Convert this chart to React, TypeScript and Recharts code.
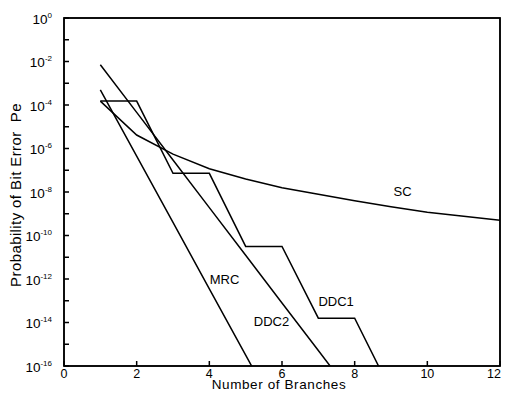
import React from 'react';
import { ComposedChart, Line, XAxis, YAxis, ReferenceDot, ReferenceArea } from 'recharts';

// Number of branches (x) and probability of bit error Pe (y) for each scheme
const scBranches = [1, 2, 3, 4, 5, 6, 7, 8, 9, 10, 11, 12];
const scPe = [1.51e-4, 4.17e-6, 5.5e-7, 1.17e-7, 3.98e-8, 1.58e-8, 7.9e-9, 3.98e-9, 2.09e-9, 1.17e-9, 7.6e-10, 5.0e-10];

const mrcBranches = [1, 2, 3, 4, 5, 6];
const mrcPe = [5.0e-4, 4.47e-7, 3.98e-10, 3.55e-13, 3.16e-16, 2.82e-19];

const ddc1Branches = [1, 2, 3, 4, 5, 6, 7, 8, 9];
const ddc1Pe = [1.51e-4, 1.51e-4, 7.24e-8, 7.24e-8, 3.16e-11, 3.16e-11, 1.58e-14, 1.58e-14, 7.08e-18];

const ddc2Branches = [1, 2, 3, 4, 5, 6, 7, 8];
const ddc2Pe = [7.08e-3, 4.57e-5, 2.95e-7, 1.91e-9, 1.23e-11, 7.94e-14, 5.13e-16, 3.31e-18];

const xTicks = [0, 2, 4, 6, 8, 10, 12];
const yExponents = [0, -1, -2, -3, -4, -5, -6, -7, -8, -9, -10, -11, -12, -13, -14, -15, -16];
const yTicks = yExponents.map((e) => Math.pow(10, e));

const curveNames = ['SC', 'DDC1', 'DDC2', 'MRC'];
const curveLabelX = [9.32, 7.49, 5.71, 4.42];
const curveLabelY = [1.1e-8, 9.8e-14, 1.1e-14, 1.0e-12];

const xTitle = 'Number of Branches';
const yTitle = 'Probability of Bit Error  Pe';

const FONT = '"Liberation Sans", Arial, Helvetica, sans-serif';
const INK = '#000000';
const W = 502;
const H = 391;
const MARGIN = { top: 10, right: 10, bottom: 0, left: 0 };
const Y_AXIS_W = 56;
const X_AXIS_H = 33;

const zip = (xs: number[], ys: number[]) => xs.map((x, i) => ({ x, y: ys[i] }));
const scData = zip(scBranches, scPe);
const mrcData = zip(mrcBranches, mrcPe);
const ddc1Data = zip(ddc1Branches, ddc1Pe);
const ddc2Data = zip(ddc2Branches, ddc2Pe);

const X_MAX = xTicks[xTicks.length - 1];
const TICK = 5;
const TICK_W = 1.5;

// plot box derived from the chart layout (not from data)
const PLOT_L = MARGIN.left + Y_AXIS_W;
const PLOT_T = MARGIN.top;
const PLOT_R = W - MARGIN.right;
const PLOT_B = H - MARGIN.bottom - X_AXIS_H;

const BottomTick = (p: any) => {
  const isLast = p.payload.value === X_MAX;
  return (
    <g>
      <rect x={p.x - TICK_W / 2} y={p.y - TICK} width={TICK_W} height={TICK} fill={INK} />
      <text x={isLast ? p.x + 1 : p.x} y={p.y + 11.5} textAnchor={isLast ? 'end' : 'middle'} fontSize={12.5} fill={INK} fontFamily={FONT}>
        {p.payload.value}
      </text>
    </g>
  );
};

const TopTick = (p: any) => (
  <rect x={p.x - TICK_W / 2} y={p.y} width={TICK_W} height={TICK} fill={INK} />
);

const LeftTick = (p: any) => {
  const e = Math.round(Math.log10(p.payload.value));
  return (
    <g>
      <rect x={p.x} y={p.y - TICK_W / 2} width={TICK} height={TICK_W} fill={INK} />
      {e % 2 === 0 ? (
        <text x={p.x - 12} y={p.y + 5.5} textAnchor="end" fontSize={13.5} fill={INK} fontFamily={FONT}>
          10
          <tspan dy={-6} fontSize={8}>{String(e)}</tspan>
        </text>
      ) : null}
    </g>
  );
};

const RightTick = (p: any) => (
  <rect x={p.x - TICK} y={p.y - TICK_W / 2} width={TICK} height={TICK_W} fill={INK} />
);

export default function App() {
  return (
    <div style={{ position: 'relative', width: W, height: H, background: '#fff', fontFamily: FONT }}>
      <ComposedChart width={W} height={H} margin={MARGIN}>
        <XAxis xAxisId="b" dataKey="x" type="number" domain={[0, 12]} ticks={xTicks} interval={0} height={X_AXIS_H}
          tickSize={0} tickMargin={0} tickLine={false} axisLine={false}
          tick={(p: any) => <BottomTick {...p} />} allowDataOverflow />
        <XAxis xAxisId="t" dataKey="x" orientation="top" type="number" domain={[0, 12]} ticks={xTicks} interval={0} height={0}
          tickSize={0} tickMargin={0} tickLine={false} axisLine={false} tick={(p: any) => <TopTick {...p} />} allowDataOverflow />
        <YAxis yAxisId="l" type="number" scale="log" domain={[1e-16, 1]} ticks={yTicks} interval={0} width={Y_AXIS_W}
          tickSize={0} tickMargin={0} tickLine={false} axisLine={false} tick={(p: any) => <LeftTick {...p} />} allowDataOverflow />
        <YAxis yAxisId="r" orientation="right" type="number" scale="log" domain={[1e-16, 1]} ticks={yTicks} interval={0} width={0}
          tickSize={0} tickMargin={0} tickLine={false} axisLine={false} tick={(p: any) => <RightTick {...p} />} allowDataOverflow />
        <ReferenceArea xAxisId="b" yAxisId="l" x1={0} x2={12} y1={1e-16} y2={1} fill="none" stroke={INK} strokeWidth={1.5} ifOverflow="visible" />
        <Line xAxisId="b" yAxisId="l" data={scData} dataKey="y" type="linear" stroke={INK} strokeWidth={1.5} dot={false} isAnimationActive={false} />
        <Line xAxisId="b" yAxisId="l" data={mrcData} dataKey="y" type="linear" stroke={INK} strokeWidth={1.5} dot={false} isAnimationActive={false} />
        <Line xAxisId="b" yAxisId="l" data={ddc1Data} dataKey="y" type="linear" stroke={INK} strokeWidth={1.5} dot={false} isAnimationActive={false} />
        <Line xAxisId="b" yAxisId="l" data={ddc2Data} dataKey="y" type="linear" stroke={INK} strokeWidth={1.5} dot={false} isAnimationActive={false} />
        {curveNames.map((name, i) => (
          <ReferenceDot key={name} xAxisId="b" yAxisId="l" x={curveLabelX[i]} y={curveLabelY[i]} r={1} fill="none" stroke="none"
            label={{ value: name, position: 'center', fill: INK, fontSize: 13, fontFamily: FONT }} />
        ))}
      </ComposedChart>
      <svg width={W} height={H} style={{ position: 'absolute', left: 0, top: 0, pointerEvents: 'none' }}>
        <rect x={PLOT_L} y={PLOT_T} width={PLOT_R - PLOT_L} height={PLOT_B - PLOT_T} fill="none" stroke={INK} strokeWidth={1.5} />
        <text x={271} y={381} textAnchor="middle" fontSize={13.5} letterSpacing={0.6} fill={INK} fontFamily={FONT}>
          {xTitle}
        </text>
        <text x={13} y={187} transform="rotate(-90 13 187)" textAnchor="middle" fontSize={15} letterSpacing={0.4}
          fill={INK} fontFamily={FONT} style={{ whiteSpace: 'pre' }}>
          {yTitle}
        </text>
      </svg>
    </div>
  );
}
